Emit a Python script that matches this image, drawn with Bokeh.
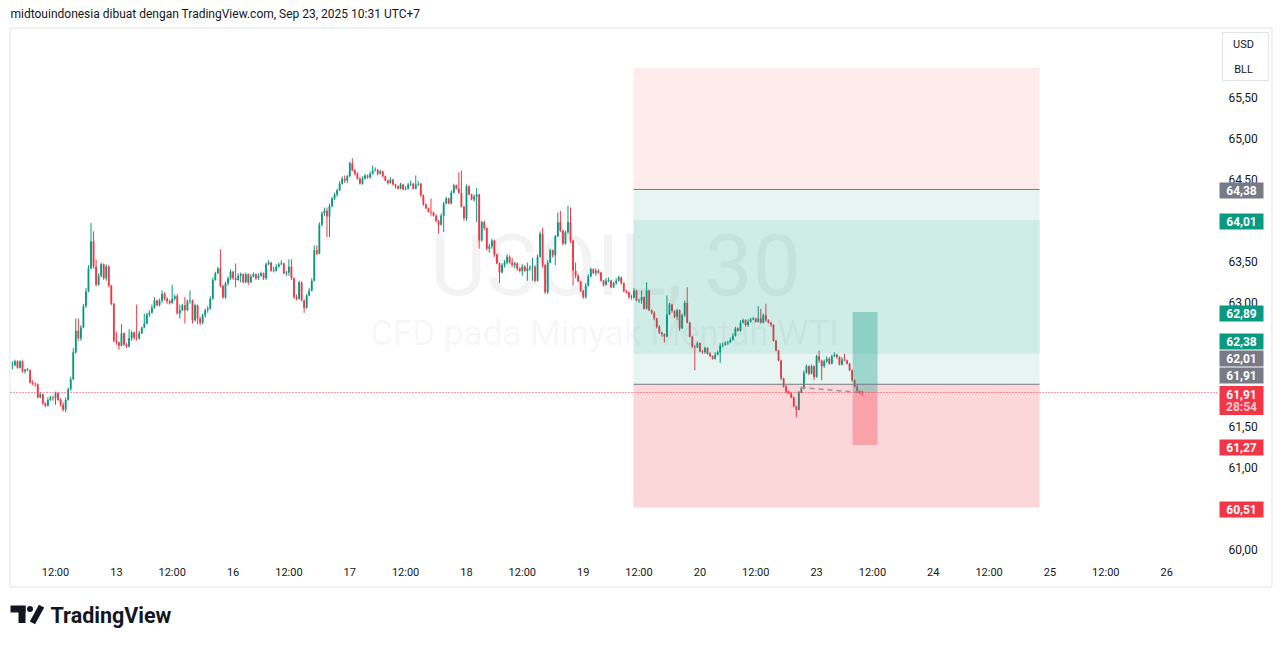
import numpy as np
from bokeh.plotting import figure
from bokeh.models import Range1d, FixedTicker
from bokeh.embed import file_html
from bokeh.resources import INLINE
from bokeh.core.properties import value

# ---------------- data (30-minute bars, USOIL) ----------------
FIRST_BAR = -17          # bar index of the first candle (bar 0 = Sep 12, 12:00)
first_open = 62.24

close = [
 62.24,62.29,62.21,62.29,62.17,62.19,62.18,62.03,62.02,62.01,61.85,61.89,61.78,61.75,61.82,61.85,61.84,
 61.90,61.82,61.76,61.70,61.82,61.95,62.07,62.40,62.66,62.57,62.70,62.96,63.14,63.42,63.75,63.44,63.22,
 63.33,63.47,63.30,63.44,63.21,62.99,62.54,62.52,62.48,62.63,62.49,62.47,62.57,62.64,62.58,62.57,62.63,
 62.70,62.75,62.86,62.88,62.94,63.03,62.97,63.03,63.11,63.05,63.02,63.00,63.05,63.08,62.87,62.91,62.97,
 62.91,63.02,63.03,62.79,62.97,62.81,62.76,62.85,62.91,62.93,63.05,63.28,63.36,63.42,63.21,63.07,63.24,
 63.30,63.38,63.30,63.28,63.33,63.35,63.25,63.35,63.25,63.32,63.35,63.30,63.33,63.36,63.30,63.47,63.49,
 63.39,63.39,63.44,63.47,63.48,63.36,63.37,63.44,63.30,63.07,63.05,63.25,63.03,62.94,63.09,63.15,63.27,
 63.64,63.60,63.95,64.09,64.12,64.05,64.18,64.27,64.32,64.37,64.45,64.51,64.49,64.54,64.70,64.61,64.57,
 64.51,64.45,64.51,64.55,64.53,64.57,64.61,64.62,64.57,64.60,64.54,64.49,64.46,64.50,64.44,64.42,64.39,
 64.44,64.38,64.39,64.44,64.45,64.39,64.44,64.45,64.31,64.20,64.15,64.11,64.10,64.06,64.00,63.95,64.06,
 64.21,64.27,64.21,64.34,64.43,64.39,64.34,64.17,64.03,64.42,64.32,64.26,64.29,64.32,63.76,63.98,63.91,
 63.66,63.69,63.76,63.59,63.48,63.37,63.46,63.49,63.56,63.49,63.46,63.48,63.42,63.39,63.44,63.39,63.42,
 63.43,63.44,63.27,63.56,63.84,63.46,63.13,63.49,63.64,63.58,63.81,63.98,63.88,63.72,63.86,63.98,63.76,
 63.39,63.33,63.26,63.15,63.07,63.21,63.32,63.41,63.36,63.39,63.37,63.27,63.22,63.27,63.27,63.19,63.24,
 63.27,63.31,63.24,63.14,63.13,63.07,63.07,63.15,63.03,63.03,63.07,62.93,63.15,62.91,62.88,62.81,62.71,
 62.64,62.62,62.59,62.86,62.98,62.90,62.83,62.91,62.69,62.85,63.00,62.76,62.59,62.47,62.46,62.51,62.41,
 62.40,62.45,62.38,62.35,62.32,62.37,62.40,62.48,62.49,62.51,62.52,62.55,62.60,62.69,62.66,62.76,62.79,
 62.73,62.77,62.80,62.81,62.77,62.81,62.76,62.85,62.79,62.76,62.73,62.54,62.42,62.30,62.08,61.98,61.92,
 61.90,61.85,61.74,61.70,61.91,61.96,62.15,62.23,62.14,62.23,62.10,62.35,62.30,62.23,62.29,62.32,62.26,
 62.35,62.37,62.34,62.25,62.31,62.30,62.26,62.18,62.06,61.98,61.93,61.92,61.91]

high = [
 62.29,62.31,62.30,62.30,62.30,62.20,62.21,62.19,62.06,62.03,62.02,61.91,61.90,61.79,61.85,61.87,61.87,
 61.92,61.92,61.84,61.79,61.85,61.97,62.10,62.45,62.81,62.81,62.73,62.99,63.18,63.46,63.97,63.87,63.53,
 63.36,63.49,63.48,63.47,63.46,63.22,63.00,62.65,62.53,62.74,62.64,62.51,62.68,62.66,62.65,62.98,62.66,
 62.71,62.87,62.88,62.91,62.98,63.07,63.04,63.05,63.15,63.13,63.07,63.04,63.22,63.10,63.11,62.98,62.99,
 63.07,63.04,63.15,63.04,62.99,62.98,62.83,62.87,62.93,62.96,63.08,63.31,63.38,63.44,63.65,63.22,63.26,
 63.32,63.41,63.39,63.48,63.36,63.37,63.36,63.37,63.36,63.35,63.37,63.36,63.36,63.38,63.37,63.49,63.52,
 63.50,63.44,63.47,63.49,63.52,63.49,63.39,63.53,63.53,63.31,63.10,63.27,63.26,63.04,63.11,63.18,63.30,
 63.70,63.70,63.98,64.11,64.16,64.16,64.21,64.29,64.34,64.39,64.48,64.54,64.55,64.56,64.72,64.76,64.63,
 64.59,64.53,64.54,64.57,64.56,64.60,64.67,64.65,64.63,64.62,64.61,64.55,64.50,64.53,64.51,64.45,64.43,
 64.46,64.45,64.42,64.46,64.49,64.46,64.55,64.48,64.46,64.32,64.21,64.16,64.27,64.11,64.08,64.01,64.09,
 64.23,64.29,64.28,64.37,64.45,64.44,64.59,64.61,64.18,64.44,64.43,64.33,64.32,64.40,64.33,64.00,64.00,
 63.92,63.72,63.78,63.77,63.60,63.49,63.48,63.52,63.59,63.58,63.55,63.50,63.49,63.43,63.47,63.46,63.49,
 63.46,63.55,63.46,63.59,63.87,63.91,63.47,63.52,63.66,63.65,63.83,64.10,64.12,63.89,63.88,64.18,64.16,
 63.77,63.49,63.35,63.27,63.16,63.24,63.35,63.43,63.42,63.42,63.41,63.38,63.28,63.30,63.31,63.28,63.26,
 63.30,63.33,63.32,63.25,63.16,63.14,63.10,63.18,63.16,63.05,63.15,63.08,63.25,63.16,62.92,62.90,62.82,
 62.73,62.65,62.63,63.09,63.00,62.99,62.91,62.93,62.92,62.87,63.03,63.19,62.77,62.60,62.49,62.53,62.52,
 62.43,62.47,62.46,62.40,62.36,62.40,62.42,62.51,62.52,62.53,62.54,62.58,62.63,62.71,62.70,62.79,62.81,
 62.80,62.80,62.82,62.83,62.82,62.96,62.93,62.87,62.99,62.80,62.77,62.74,62.55,62.43,62.31,62.09,62.00,
 61.93,61.91,61.86,61.75,61.93,61.98,62.18,62.25,62.24,62.25,62.24,62.37,62.42,62.31,62.31,62.35,62.34,
 62.37,62.40,62.38,62.35,62.34,62.38,62.31,62.27,62.19,62.07,62.00,61.93,61.93]

low = [
 62.19,62.23,62.20,62.20,62.15,62.14,62.17,62.02,62.00,61.98,61.84,61.84,61.76,61.73,61.74,61.81,61.81,
 61.76,61.81,61.74,61.68,61.67,61.81,61.93,62.06,62.38,62.54,62.54,62.69,62.94,63.13,63.41,63.42,63.20,
 63.21,63.31,63.28,63.27,63.19,62.97,62.52,62.49,62.43,62.47,62.48,62.45,62.46,62.54,62.55,62.54,62.55,
 62.62,62.69,62.74,62.83,62.87,62.93,62.96,62.96,63.00,63.03,62.99,62.98,62.99,63.03,62.86,62.81,62.90,
 62.75,62.90,62.99,62.75,62.77,62.74,62.73,62.74,62.82,62.88,62.92,63.04,63.27,63.35,63.19,63.05,63.05,
 63.21,63.28,63.28,63.19,63.27,63.25,63.24,63.24,63.22,63.24,63.31,63.28,63.28,63.32,63.28,63.28,63.46,
 63.38,63.37,63.38,63.43,63.46,63.35,63.33,63.33,63.28,63.05,63.03,63.04,63.02,62.88,62.93,63.08,63.14,
 63.26,63.58,63.59,63.93,64.06,63.80,63.80,64.16,64.25,64.29,64.36,64.44,64.46,64.46,64.53,64.60,64.55,
 64.50,64.44,64.44,64.50,64.51,64.51,64.56,64.60,64.55,64.56,64.53,64.48,64.44,64.45,64.43,64.39,64.38,
 64.38,64.37,64.37,64.38,64.42,64.38,64.38,64.42,64.29,64.18,64.14,64.10,64.06,64.05,63.98,63.84,63.94,
 63.86,64.20,64.20,64.20,64.33,64.38,64.33,64.16,64.00,64.00,64.31,64.25,64.23,63.98,63.66,63.75,63.88,
 63.64,63.61,63.66,63.56,63.47,63.24,63.36,63.43,63.47,63.48,63.44,63.42,63.39,63.37,63.33,63.38,63.27,
 63.39,63.27,63.25,63.26,63.55,63.43,63.11,63.11,63.48,63.55,63.46,63.80,63.86,63.70,63.71,63.84,63.73,
 63.21,63.30,63.25,63.13,63.05,63.05,63.20,63.31,63.35,63.33,63.35,63.26,63.20,63.21,63.25,63.18,63.18,
 63.22,63.26,63.22,63.13,63.11,63.05,63.04,63.05,63.02,63.00,62.99,62.92,62.92,62.90,62.86,62.79,62.69,
 62.62,62.59,62.52,62.58,62.85,62.88,62.81,62.79,62.66,62.68,62.83,62.75,62.58,62.45,62.18,62.45,62.40,
 62.38,62.38,62.37,62.34,62.31,62.31,62.36,62.27,62.46,62.48,62.49,62.51,62.54,62.59,62.65,62.65,62.75,
 62.71,62.71,62.76,62.79,62.76,62.76,62.75,62.75,62.77,62.75,62.71,62.53,62.41,62.29,62.06,61.97,61.90,
 61.89,61.84,61.73,61.61,61.69,61.90,61.95,62.14,62.12,62.13,62.06,62.09,62.27,62.06,62.21,62.27,62.25,
 62.25,62.34,62.32,62.24,62.24,62.29,62.25,62.17,62.04,61.97,61.91,61.89,61.87]

# time axis (bar index -> label)
tick_bars = [0, 24, 46, 70, 92, 116, 138, 162, 184, 208, 230, 254, 276, 300, 322, 346, 368, 392, 414, 438]
tick_labels = ["12:00", "13", "12:00", "16", "12:00", "17", "12:00", "18", "12:00", "19",
               "12:00", "20", "12:00", "23", "12:00", "24", "12:00", "25", "12:00", "26"]
price_ticks = [60.0, 61.0, 61.5, 63.0, 63.5, 64.5, 65.0, 65.5]

# drawing tools (prices / bar indices)
upper_zone_top = 65.86
entry_a, target_a, stop_a = 62.01, 64.38, 60.51
entry_b, target_b = 62.38, 64.01
small_target, small_entry, small_stop = 62.89, 61.91, 61.27
last_price = 61.91
countdown = "28:54"
tool_bars = (227.8, 387.9)
small_tool_bars = (314.2, 324.0)
projection = ((293.7, 61.97), (317.3, 61.91))

badge_values = [64.38, 64.01, 62.89, 62.38, 62.01, 61.91, 61.91, 61.27, 60.51]
badge_kind = ["gray", "green", "green", "green", "gray", "gray", "red", "red", "red"]

title_text = "midtouindonesia dibuat dengan TradingView.com, Sep 23, 2025 10:31 UTC+7"
currency_text = ["USD", "BLL"]

# ---------------- layout (page pixels) ----------------
W, H = 1273, 640
X0_PX, BAR_PX = 55.0, 2.537          # pixel of bar 0, pixels per bar
Y60_PX, PRICE_PX = 549.0, 82.2       # pixel of price 60, pixels per 1.00


def px_x(px):
    return (px - X0_PX) / BAR_PX


def px_y(py):
    return 60.0 + (Y60_PX - py) / PRICE_PX


PANE_L, PANE_R = 10, 1215
badge_px_y = [190, 221, 313, 341, 358, 375, 394, 447, 509]
countdown_px_y = 406

UP, DOWN = "#089981", "#f23645"
BADGE = {"gray": "#787b86", "green": "#089981", "red": "#f23645"}
FONT = "Roboto"
INK = "#131722"

# ---------------- candles ----------------
n = len(close)
xs = np.arange(FIRST_BAR, FIRST_BAR + n)
c = np.array(close)
o = np.concatenate([[first_open], c[:-1]])
h = np.maximum.reduce([np.array(high), o, c])
l = np.minimum.reduce([np.array(low), o, c])
col = np.where(c >= o, UP, DOWN)
body_top = np.maximum(np.maximum(o, c), np.minimum(o, c) + 0.008)
body_bot = np.minimum(o, c)

p = figure(width=W, height=H,
           x_range=Range1d(px_x(0), px_x(W)), y_range=Range1d(px_y(H), px_y(0)),
           y_axis_location="right", output_backend="svg", toolbar_location=None,
           min_border_left=0, min_border_right=0, min_border_top=0, min_border_bottom=0)
p.background_fill_color = "white"
p.border_fill_color = "white"
p.outline_line_color = None
p.grid.visible = False

# outer border of the chart
p.quad(left=[px_x(9.5)], right=[px_x(1271.5)], top=[px_y(27.5)], bottom=[px_y(586.5)],
       fill_color=None, line_color="#e0e3eb", line_width=1)

# watermark
p.text(x=[px_x(615)], y=[px_y(265)], text=["USOIL, 30"], text_font=value(FONT), text_font_size="86px",
       text_color=INK, text_alpha=0.05, text_align="center", text_baseline="middle")
p.text(x=[px_x(604)], y=[px_y(333)], text=["CFD pada Minyak Mentah WTI"], text_font=value(FONT),
       text_font_size="35px", text_color=INK, text_alpha=0.05, text_align="center",
       text_baseline="middle")

p.segment(x0=xs, y0=l, x1=xs, y1=h, line_color=col, line_width=1)
p.vbar(x=xs, width=0.72, top=body_top, bottom=body_bot, fill_color=col, line_color=None)

# position tool zones
x0, x1 = tool_bars
p.quad(left=[x0], right=[x1], bottom=[target_a], top=[upper_zone_top], fill_color=DOWN, fill_alpha=0.1, line_color=None)
p.quad(left=[x0], right=[x1], bottom=[entry_a], top=[target_a], fill_color=UP, fill_alpha=0.1, line_color=None)
p.quad(left=[x0], right=[x1], bottom=[entry_b], top=[target_b], fill_color=UP, fill_alpha=0.1, line_color=None)
p.quad(left=[x0], right=[x1], bottom=[stop_a], top=[entry_a], fill_color=DOWN, fill_alpha=0.2, line_color=None)
s0, s1 = small_tool_bars
p.quad(left=[s0], right=[s1], bottom=[small_entry], top=[small_target], fill_color=UP, fill_alpha=0.33, line_color=None)
p.quad(left=[s0], right=[s1], bottom=[small_stop], top=[small_entry], fill_color=DOWN, fill_alpha=0.33, line_color=None)
p.segment(x0=[x0, x0], y0=[target_a, entry_a], x1=[x1, x1], y1=[target_a, entry_a],
          line_color="#787b86", line_width=1)
(px0, py0), (px1, py1) = projection
p.segment(x0=[px0], y0=[py0], x1=[px1], y1=[py1], line_color="#9598a1", line_width=1.5, line_dash="5 4")

# current price line across the pane
p.segment(x0=[px_x(PANE_L)], y0=[last_price], x1=[px_x(PANE_R + 2)], y1=[last_price],
          line_color=DOWN, line_width=1, line_dash="1 2")

# axes (labels drawn inside the canvas like TradingView's scales)
p.xaxis.ticker = FixedTicker(ticks=tick_bars)
p.xaxis.major_label_overrides = {b: t for b, t in zip(tick_bars, tick_labels)}
p.yaxis.ticker = FixedTicker(ticks=price_ticks)
p.yaxis.major_label_overrides = {t: f"{t:.2f}".replace(".", ",") for t in price_ticks}
for ax in (p.xaxis[0], p.yaxis[0]):
    ax.axis_line_color = None
    ax.major_tick_line_color = None
    ax.minor_tick_line_color = None
    ax.major_tick_out = 0
    ax.major_tick_in = 0
    ax.major_label_text_font = FONT
    ax.major_label_text_color = INK
p.xaxis.major_label_text_font_size = "11px"
p.xaxis.major_label_standoff = 565 - H
p.yaxis.major_label_text_font_size = "12px"
p.yaxis.major_label_standoff = 1228 - W

# price badges (drawn over the scale labels)
bx = px_x(1241)
by = [px_y(v) for v in badge_px_y]
bh = [16] * len(by)
by[6] = px_y(400)
bh[6] = 29
p.rect(x=[bx] * len(by), y=by, width=44, height=bh, width_units="screen", height_units="screen",
       fill_color=[BADGE[k] for k in badge_kind], line_color=None, level="overlay")
btxt_y = [px_y(v) for v in badge_px_y]
p.text(x=[bx] * len(by), y=btxt_y, text=[f"{v:.2f}".replace(".", ",") for v in badge_values],
       text_font=value(FONT), text_font_size="12px", text_font_style="bold", text_color="white",
       text_align="center", text_baseline="middle", level="overlay")
p.text(x=[bx], y=[px_y(countdown_px_y)], text=[countdown], text_font=value(FONT), text_font_size="12px",
       text_font_style="bold", text_color="#fcc9ce", text_align="center", text_baseline="middle",
       level="overlay")

# currency / unit box
p.rect(x=[px_x(1245)], y=[px_y(56)], width=46, height=48, width_units="screen", height_units="screen",
       fill_color="white", line_color="#e0e3eb", level="overlay")
p.text(x=[px_x(1243)] * 2, y=[px_y(44), px_y(69)], text=currency_text, text_font=value(FONT),
       text_font_size="11px", text_color=INK, text_align="center", text_baseline="middle", level="overlay")

# header and logo
p.text(x=[px_x(10)], y=[px_y(13)], text=[title_text], text_font=value(FONT), text_font_size="12px",
       text_color=INK, text_align="left", text_baseline="middle")
p.text(x=[px_x(50)], y=[px_y(615)], text=["TradingView"], text_font=value(FONT), text_font_size="21.5px",
       text_font_style="bold", text_color=INK, text_align="left", text_baseline="middle")
p.rect(x=[px_x(17.5), px_x(21.5)], y=[px_y(608.5), px_y(614)], width=[15, 7], height=[7, 17],
       width_units="screen", height_units="screen", fill_color=INK, line_color=None)
p.rect(x=[px_x(36.5)], y=[px_y(614)], width=6, height=19, angle=-0.5,
       width_units="screen", height_units="screen", fill_color=INK, line_color=None)
p.scatter(x=[px_x(29.5)], y=[px_y(608.5)], size=6, marker="circle", fill_color=INK, line_color=None)

open("out.html", "w").write(file_html(p, INLINE))
